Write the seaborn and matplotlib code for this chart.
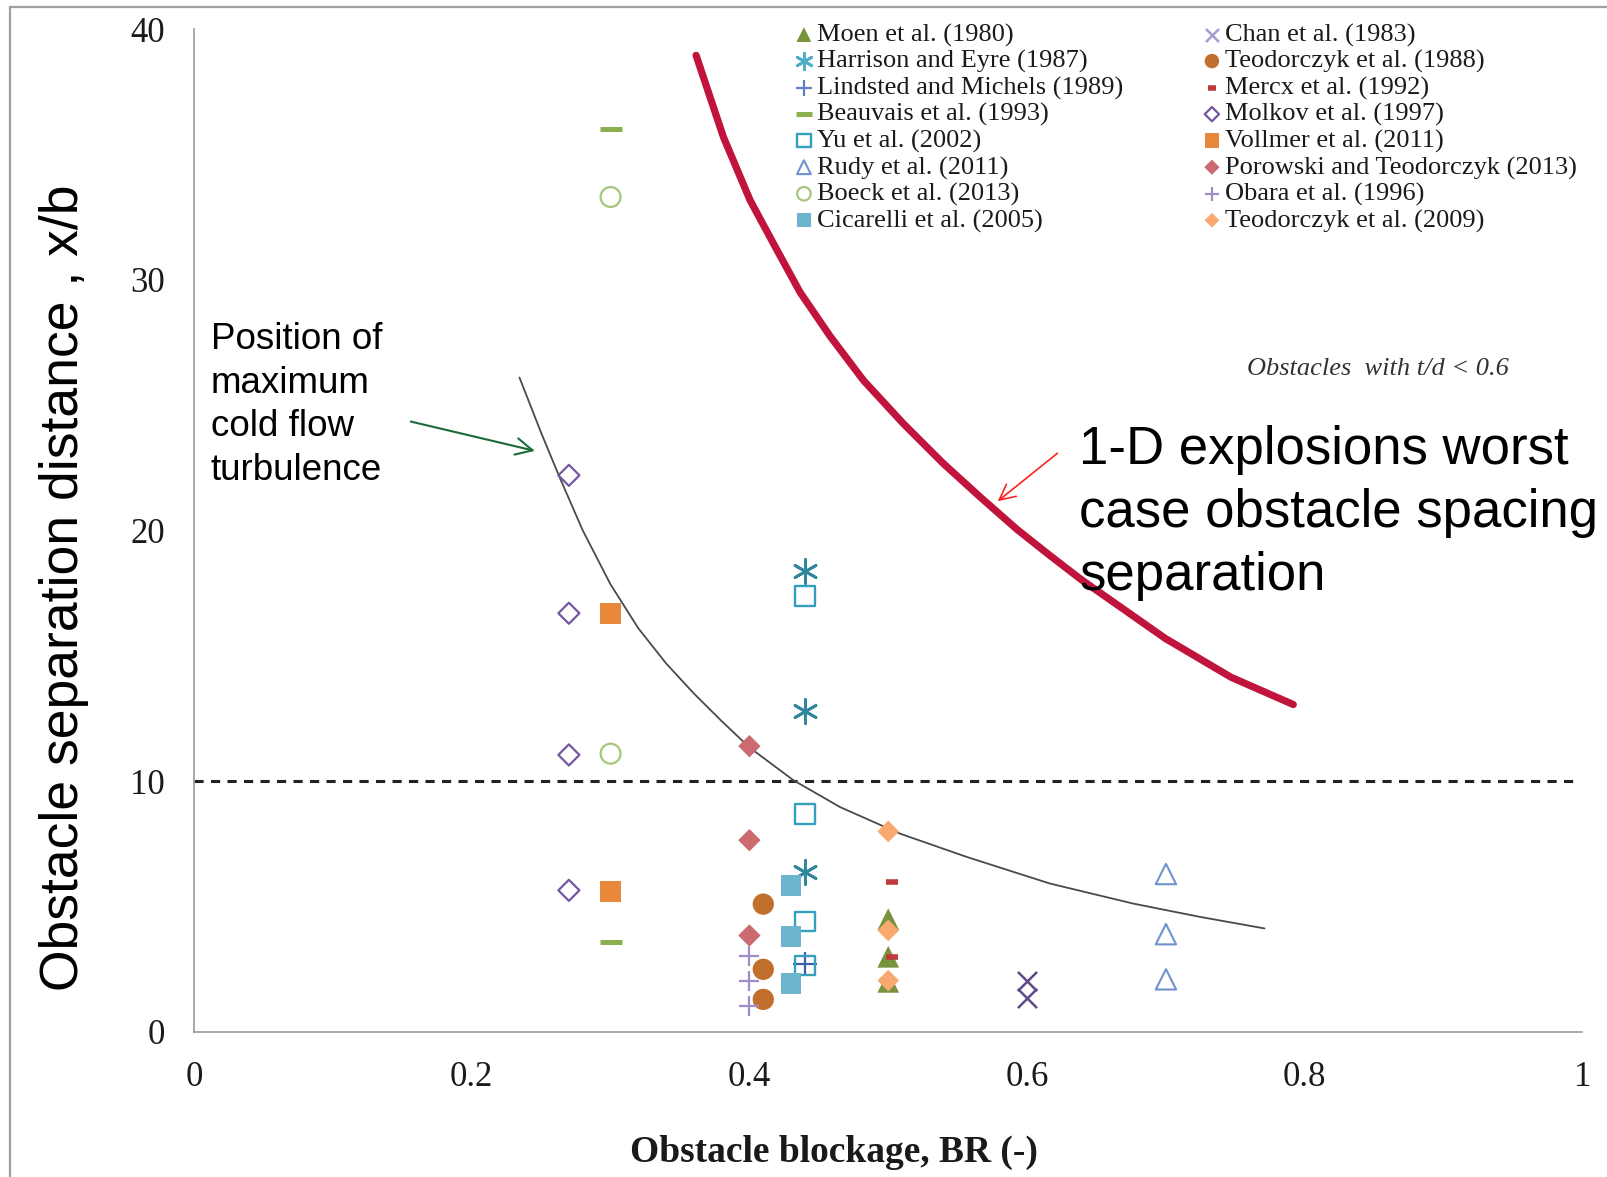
import matplotlib
matplotlib.use("Agg")
import matplotlib.pyplot as plt
import seaborn as sns
from matplotlib.ticker import MultipleLocator, FuncFormatter
from matplotlib.lines import Line2D

sns.set_style("white")
plt.rcParams["font.family"] = ["Liberation Serif", "DejaVu Serif"]
plt.rcParams["text.color"] = "black"

# ---------------- data ----------------
moen_x = [0.50, 0.50, 0.50];              moen_y = [4.5, 3.0, 2.0]
chan_x = [0.60, 0.60];                    chan_y = [2.05, 1.35]
harrison_x = [0.44, 0.44, 0.44];          harrison_y = [18.4, 12.8, 6.4]
teod88_x = [0.41, 0.41, 0.41];            teod88_y = [5.1, 2.5, 1.3]
lindsted_x = [0.44];                      lindsted_y = [2.7]
mercx_x = [0.503, 0.503];                 mercx_y = [6.0, 3.0]
beauvais_x = [0.30, 0.30];                beauvais_y = [36.0, 3.6]
molkov_x = [0.27, 0.27, 0.27, 0.27];      molkov_y = [22.2, 16.7, 11.05, 5.65]
yu_x = [0.44, 0.44, 0.44, 0.44];          yu_y = [17.4, 8.7, 4.4, 2.65]
vollmer_x = [0.30, 0.30];                 vollmer_y = [16.7, 5.6]
rudy_x = [0.70, 0.70, 0.70];              rudy_y = [6.3, 3.9, 2.1]
porowski_x = [0.40, 0.40, 0.40];          porowski_y = [11.4, 7.65, 3.85]
boeck_x = [0.30, 0.30];                   boeck_y = [33.3, 11.1]
obara_x = [0.40, 0.40, 0.40];             obara_y = [3.05, 2.05, 1.05]
cicarelli_x = [0.43, 0.43, 0.43];         cicarelli_y = [5.85, 3.8, 1.95]
teod09_x = [0.50, 0.50, 0.50];            teod09_y = [8.0, 4.05, 2.05]

# position of maximum cold flow turbulence (grey curve)
cold_x = [0.2344, 0.25, 0.2627, 0.28, 0.30, 0.32, 0.34, 0.36, 0.38, 0.40,
          0.4317, 0.4653, 0.5085, 0.5566, 0.6165, 0.6765, 0.7246, 0.771]
cold_y = [26.1, 23.9, 22.2, 20.0, 17.85, 16.1, 14.7, 13.5, 12.4, 11.35,
          10.04, 8.97, 7.91, 6.98, 5.92, 5.12, 4.59, 4.13]

# 1-D explosions worst case (red curve)
worst_x = [0.3616, 0.3813, 0.4005, 0.4197, 0.4365, 0.4581, 0.4821, 0.5109,
           0.5397, 0.5661, 0.5926, 0.6165, 0.6388, 0.6994, 0.7468, 0.7917]
worst_y = [38.95, 35.69, 33.17, 31.2, 29.5, 27.75, 25.99, 24.26,
           22.67, 21.34, 20.05, 19.0, 18.05, 15.7, 14.15, 13.06]

threshold_y = 10
x_ticks = [0, 0.2, 0.4, 0.6, 0.8, 1]
y_ticks = [0, 10, 20, 30, 40]

# ---------------- figure ----------------
W, H = 1608, 1177
fig = plt.figure(figsize=(W / 100, H / 100), dpi=100)
ax = fig.add_axes([194 / W, 1 - 1032 / H, (1582.5 - 194) / W, (1032 - 29) / H])

def fx(px):
    return px / W

def fy(py):
    return 1 - py / H

series = [
    ("Moen et al. (1980)", moen_x, moen_y, dict(marker="^", color="#77933C", s=245, edgecolor="none")),
    ("Chan et al. (1983)", chan_x, chan_y, dict(marker="x", color="#5F4A8B", s=190, linewidth=1.8)),
    ("Harrison and Eyre (1987)", harrison_x, harrison_y, dict(marker=(6, 2, 0), color="#31859C", s=300, linewidth=2.0)),
    ("Teodorczyk et al. (1988)", teod88_x, teod88_y, dict(marker="o", color="#C0702C", s=235, edgecolor="none")),
    ("Lindsted and Michels (1989)", lindsted_x, lindsted_y, dict(marker="+", color="#3D5EAB", s=300, linewidth=1.6)),
    ("Mercx et al. (1992)", mercx_x, mercx_y, dict(marker="_", color="#C0393B", s=70, linewidth=4.0)),
    ("Beauvais et al. (1993)", beauvais_x, beauvais_y, dict(marker="_", color="#8BB04E", s=260, linewidth=3.6)),
    ("Molkov et al. (1997)", molkov_x, molkov_y, dict(marker="D", color="#7456A3", s=115, facecolor="none", edgecolor="#7456A3", linewidth=1.6)),
    ("Yu et al. (2002)", yu_x, yu_y, dict(marker="s", color="#35A0BD", s=200, facecolor="none", edgecolor="#35A0BD", linewidth=1.7)),
    ("Vollmer et al. (2011)", vollmer_x, vollmer_y, dict(marker="s", color="#E8883A", s=235, edgecolor="none")),
    ("Rudy et al. (2011)", rudy_x, rudy_y, dict(marker="^", color="#6F93CF", s=215, facecolor="none", edgecolor="#6F93CF", linewidth=1.5)),
    ("Porowski and Teodorczyk (2013)", porowski_x, porowski_y, dict(marker="D", color="#CB6A70", s=130, edgecolor="none")),
    ("Boeck et al. (2013)", boeck_x, boeck_y, dict(marker="o", color="#A5C77A", s=205, facecolor="none", edgecolor="#A5C77A", linewidth=1.6)),
    ("Obara et al. (1996)", obara_x, obara_y, dict(marker="+", color="#A18BC9", s=190, linewidth=1.6)),
    ("Cicarelli et al. (2005)", cicarelli_x, cicarelli_y, dict(marker="s", color="#6DB5CC", s=225, edgecolor="none")),
    ("Teodorczyk et al. (2009)", teod09_x, teod09_y, dict(marker="D", color="#F9A870", s=122, edgecolor="none")),
]

handles = {}
for label, xs, ys, st in series:
    sns.scatterplot(x=xs, y=ys, ax=ax, label=label, zorder=3, **st)
for h, l in zip(*ax.get_legend_handles_labels()):
    handles[l] = h
if ax.get_legend() is not None:
    ax.get_legend().remove()

# curves
sns.lineplot(x=cold_x, y=cold_y, ax=ax, sort=False, color="#4A4A4A", linewidth=1.3, zorder=2)
sns.lineplot(x=worst_x, y=worst_y, ax=ax, sort=False, color="#C0143C", linewidth=5.2, zorder=2)
ax.axhline(threshold_y, xmin=0, xmax=0.995, color="#222222", linewidth=2.2,
           linestyle=(0, (3, 2.4)), zorder=1)

# axes styling
ax.set_xlim(0, 1)
ax.set_ylim(0, 40)
ax.set_xticks(x_ticks)
ax.set_yticks(y_ticks)
ax.xaxis.set_minor_locator(MultipleLocator(0.1))
ax.yaxis.set_minor_locator(MultipleLocator(5))
ax.xaxis.set_major_formatter(FuncFormatter(lambda v, p: f"{v:g}"))
for s in ["top", "right"]:
    ax.spines[s].set_visible(False)
for s in ["left", "bottom"]:
    ax.spines[s].set_color("#9A9A9A")
    ax.spines[s].set_linewidth(1.2)
ax.tick_params(which="both", direction="out", length=7, width=1.1, color="#9A9A9A")
ax.tick_params(axis="x", which="major", labelsize=25, pad=14, labelcolor="#1A1A1A")
ax.tick_params(axis="y", which="major", labelsize=25, pad=14, labelcolor="#1A1A1A")
ax.set_xlabel("")
ax.set_ylabel("")
ax.grid(False)

# axis titles
fig.text(fx(64), fy(588), "Obstacle separation distance , x/b", rotation=90,
         ha="center", va="center", fontsize=38.5, color="black",
         family=["Liberation Sans", "DejaVu Sans"])
fig.text(fx(834), fy(1152), "Obstacle blockage, BR (-)", ha="center", va="center",
         fontsize=27, fontweight="bold", color="#1A1A1A")

# legends (two columns)
col1 = ["Moen et al. (1980)", "Harrison and Eyre (1987)", "Lindsted and Michels (1989)",
        "Beauvais et al. (1993)", "Yu et al. (2002)", "Rudy et al. (2011)",
        "Boeck et al. (2013)", "Cicarelli et al. (2005)"]
col2 = ["Chan et al. (1983)", "Teodorczyk et al. (1988)", "Mercx et al. (1992)",
        "Molkov et al. (1997)", "Vollmer et al. (2011)", "Porowski and Teodorczyk (2013)",
        "Obara et al. (1996)", "Teodorczyk et al. (2009)"]
leg_kw = dict(loc="upper left", frameon=False, fontsize=19, markerscale=0.68,
              handlelength=0.6, handletextpad=0.2, labelspacing=0.1,
              borderpad=0, borderaxespad=0, bbox_transform=fig.transFigure)
leg1 = ax.legend([handles[n] for n in col1], col1, bbox_to_anchor=(fx(796), fy(23)), **leg_kw)
ax.add_artist(leg1)
leg2 = ax.legend([handles[n] for n in col2], col2, bbox_to_anchor=(fx(1204), fy(23)), **leg_kw)
for lg in (leg1, leg2):
    for t in lg.get_texts():
        t.set_color("#1A1A1A")
# lighter legend symbols as in the reference
leg_light = {"Chan et al. (1983)": "#A99BD0", "Lindsted and Michels (1989)": "#5B80C4",
             "Harrison and Eyre (1987)": "#4FAFC8"}
for lg, cols in ((leg1, col1), (leg2, col2)):
    for hnd, name in zip(lg.legend_handles, cols):
        if name in leg_light:
            hnd.set_edgecolor(leg_light[name])

# annotations
fig.text(fx(211), fy(405), "Position of\nmaximum\ncold flow\nturbulence", ha="left", va="center",
         fontsize=26.5, linespacing=1.33, color="black", family=["Liberation Sans", "DejaVu Sans"])
ax.annotate("", xy=(0.2474, 23.15), xytext=(0.1542, 24.37),
            arrowprops=dict(arrowstyle="->", color="#1B6A3A", lw=1.5, mutation_scale=30))
fig.text(fx(1247), fy(369), "Obstacles  with t/d < 0.6", ha="left", va="center",
         fontsize=19, style="italic", color="#333333")
fig.text(fx(1079), fy(513), "1-D explosions worst\ncase obstacle spacing\nseparation",
         ha="left", va="center", fontsize=38, linespacing=1.33, color="black",
         family=["Liberation Sans", "DejaVu Sans"])
ax.annotate("", xy=(0.5773, 21.1), xytext=(0.6234, 23.15),
            arrowprops=dict(arrowstyle="->", color="#FF2020", lw=1.2, mutation_scale=28))

# figure frame (left and top edges)
fig.add_artist(Line2D([fx(10), fx(10)], [0, fy(7)], color="#A0A0A0", lw=1.6))
fig.add_artist(Line2D([fx(10), 1], [fy(7), fy(7)], color="#A0A0A0", lw=1.6))

fig.savefig("out.png", dpi=100)
